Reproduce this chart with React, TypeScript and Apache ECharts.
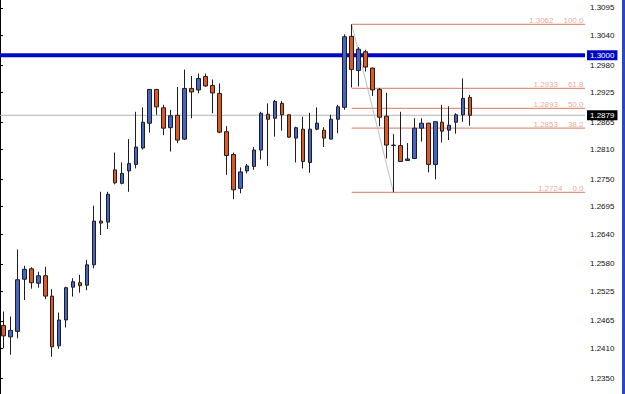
import React, { useEffect, useRef } from "react";
import * as echarts from "echarts";

// OHLC values (68 candles)
const opens = [
  1.2456, 1.2433, 1.2444, 1.2549, 1.2570, 1.2541, 1.2556, 1.2515, 1.2415, 1.2467,
  1.2533, 1.2542, 1.2537, 1.2578, 1.2666, 1.2664, 1.2769, 1.2742, 1.2767, 1.2780,
  1.2813, 1.2863, 1.2931, 1.2894, 1.2854, 1.2879, 1.2831, 1.2933, 1.2930, 1.2957,
  1.2939, 1.2923, 1.2846, 1.2800, 1.2732, 1.2767, 1.2776, 1.2809, 1.2881, 1.2873,
  1.2903, 1.2880, 1.2833, 1.2851, 1.2784, 1.2851, 1.2849, 1.2831, 1.2871, 1.2895,
  1.3038, 1.2969, 1.3007, 1.2974, 1.2931, 1.2877, 1.2819, 1.2818, 1.2788, 1.2792,
  1.2853, 1.2863, 1.2780, 1.2865, 1.2849, 1.2865, 1.2880, 1.2915,
];
const closes = [
  1.2435, 1.2446, 1.2548, 1.2569, 1.2542, 1.2556, 1.2515, 1.2413, 1.2467, 1.2532,
  1.2544, 1.2536, 1.2578, 1.2666, 1.2662, 1.2720, 1.2743, 1.2762, 1.2782, 1.2815,
  1.2865, 1.2931, 1.2896, 1.2853, 1.2878, 1.2829, 1.2933, 1.2926, 1.2953, 1.2938,
  1.2924, 1.2845, 1.2798, 1.2729, 1.2765, 1.2777, 1.2809, 1.2883, 1.2871, 1.2907,
  1.2880, 1.2835, 1.2854, 1.2786, 1.2851, 1.2863, 1.2833, 1.2871, 1.2896, 1.3037,
  1.2971, 1.3012, 1.2976, 1.2930, 1.2875, 1.2819, 1.2818, 1.2786, 1.2791, 1.2853,
  1.2863, 1.2780, 1.2866, 1.2847, 1.2859, 1.2880, 1.2913, 1.2879,
];
const lows = [
  1.2410, 1.2397, 1.2430, 1.2507, 1.2530, 1.2532, 1.2509, 1.2393, 1.2409, 1.2452,
  1.2514, 1.2522, 1.2527, 1.2571, 1.2638, 1.2650, 1.2740, 1.2740, 1.2725, 1.2772,
  1.2810, 1.2844, 1.2880, 1.2839, 1.2806, 1.2823, 1.2829, 1.2873, 1.2923, 1.2936,
  1.2883, 1.2843, 1.2759, 1.2710, 1.2722, 1.2762, 1.2769, 1.2790, 1.2777, 1.2836,
  1.2848, 1.2834, 1.2784, 1.2772, 1.2763, 1.2849, 1.2815, 1.2830, 1.2843, 1.2890,
  1.2935, 1.2937, 1.2967, 1.2918, 1.2857, 1.2792, 1.2724, 1.2785, 1.2787, 1.2791,
  1.2826, 1.2764, 1.2750, 1.2824, 1.2829, 1.2842, 1.2866, 1.2858,
];
const highs = [
  1.2484, 1.2474, 1.2609, 1.2576, 1.2573, 1.2564, 1.2574, 1.2529, 1.2482, 1.2534,
  1.2551, 1.2558, 1.2588, 1.2697, 1.2725, 1.2725, 1.2804, 1.2784, 1.2831, 1.2886,
  1.2895, 1.2932, 1.2932, 1.2900, 1.2890, 1.2936, 1.2971, 1.2958, 1.2963, 1.2963,
  1.2951, 1.2943, 1.2857, 1.2804, 1.2774, 1.2781, 1.2815, 1.2886, 1.2903, 1.2910,
  1.2908, 1.2881, 1.2856, 1.2876, 1.2884, 1.2895, 1.2855, 1.2880, 1.2900, 1.3042,
  1.3062, 1.3016, 1.3011, 1.2975, 1.2934, 1.2924, 1.2841, 1.2886, 1.2823, 1.2873,
  1.2873, 1.2864, 1.2867, 1.2900, 1.2897, 1.2883, 1.2953, 1.2920,
];

const yTicks = [
  1.2350, 1.2410, 1.2465, 1.2525, 1.2580, 1.2640, 1.2695, 1.2750, 1.2810, 1.2865,
  1.2925, 1.2980, 1.3040, 1.3095,
];

const fibPrices = [1.3062, 1.2933, 1.2893, 1.2853, 1.2724];
const fibLevels = [100.0, 61.8, 50.0, 38.2, 0.0];
const fibHighIndex = 50;
const fibLowIndex = 56;

const roundLevel = 1.3;
const lastPrice = 1.2879;

const totalSlots = 84;
const yMin = 1.2318;
const yMax = 1.3111;

export default function App() {
  const ref = useRef<HTMLDivElement>(null);

  useEffect(() => {
    if (!ref.current) return;
    const chart = echarts.init(ref.current, null, { renderer: "svg" });
    const categories = Array.from({ length: totalSlots }, (_, i) => String(i + 1));
    const candleData = opens.map((o, i) => [o, closes[i], lows[i], highs[i]]);
    const font = "'Liberation Sans', Arial, sans-serif";
    const fibColor = "#e2937f";

    const fibLineSeries = fibPrices.map((p) => ({
      type: "line",
      xAxisIndex: 1,
      yAxisIndex: 0,
      data: [
        [fibHighIndex + 0.5, p],
        [totalSlots, p],
      ],
      symbol: "none",
      silent: true,
      z: 2,
      lineStyle: { color: fibColor, width: 1.2 },
    }));

    chart.setOption({
      animation: false,
      backgroundColor: "#ffffff",
      grid: { left: 0, right: 40, top: 0, bottom: 0 },
      xAxis: [
        { type: "category", data: categories, boundaryGap: true, show: false },
        { type: "value", min: 0, max: totalSlots, show: false },
      ],
      yAxis: {
        type: "value",
        position: "right",
        min: yMin,
        max: yMax,
        axisLine: { show: true, lineStyle: { color: "#000", width: 1 } },
        axisTick: {
          show: true,
          length: 3,
          customValues: yTicks,
          lineStyle: { color: "#000" },
        },
        axisLabel: {
          customValues: yTicks,
          formatter: (v: number) => v.toFixed(4),
          color: "#111",
          fontSize: 8,
          fontFamily: font,
          margin: 5,
        },
        splitLine: { show: false },
      },
      graphic: [
        {
          type: "rect",
          right: 0,
          top: 0,
          shape: { width: 3, height: 394 },
          style: { fill: "#2a48c4" },
        },
      ],
      series: [
        {
          type: "line",
          xAxisIndex: 1,
          data: [
            [0, lastPrice],
            [totalSlots, lastPrice],
          ],
          symbol: "none",
          silent: true,
          z: 1,
          lineStyle: { color: "#b4b4b4", width: 1 },
          endLabel: {
            show: true,
            formatter: () => lastPrice.toFixed(4),
            color: "#fff",
            backgroundColor: "#000",
            fontSize: 8,
            fontFamily: font,
            padding: [1, 3, 1, 3],
            distance: 2,
          },
        },
        {
          type: "line",
          xAxisIndex: 1,
          data: [
            [0, roundLevel],
            [totalSlots, roundLevel],
          ],
          symbol: "none",
          silent: true,
          z: 1,
          lineStyle: { color: "#0008c8", width: 4 },
          endLabel: {
            show: true,
            formatter: () => roundLevel.toFixed(4),
            color: "#fff",
            backgroundColor: "#0008c8",
            fontSize: 8,
            fontFamily: font,
            padding: [1, 3, 1, 3],
            distance: 2,
          },
        },
        ...fibLineSeries,
        {
          type: "line",
          xAxisIndex: 1,
          data: [
            [fibHighIndex + 0.5, fibPrices[0]],
            [fibLowIndex + 0.5, fibPrices[fibPrices.length - 1]],
          ],
          symbol: "none",
          silent: true,
          z: 2,
          lineStyle: { color: "#bdbdbd", width: 1 },
        },
        {
          type: "scatter",
          xAxisIndex: 1,
          data: fibPrices.map((p) => [totalSlots, p]),
          symbolSize: 1,
          silent: true,
          z: 4,
          itemStyle: { color: "rgba(0,0,0,0)" },
          label: {
            show: true,
            position: "left",
            distance: 1,
            align: "right",
            verticalAlign: "bottom",
            offset: [0, 0],
            formatter: (params: any) =>
              `{p|${fibPrices[params.dataIndex].toFixed(4)}}{l|${fibLevels[params.dataIndex].toFixed(1)}}`,
            rich: {
              p: { color: fibColor, fontSize: 8, fontFamily: font },
              l: { color: fibColor, fontSize: 8, fontFamily: font, padding: [0, 0, 0, 10] },
            },
          },
        },
        {
          type: "candlestick",
          xAxisIndex: 0,
          data: candleData,
          barWidth: 4,
          z: 5,
          itemStyle: {
            color: "#4563c9",
            color0: "#e0581f",
            borderColor: "#1e1e1e",
            borderColor0: "#1e1e1e",
            borderWidth: 1,
          },
        },
      ],
    });

    return () => chart.dispose();
  }, []);

  return (
    <div
      ref={ref}
      style={{ position: "absolute", left: 0, top: 0, width: 625, height: 394 }}
    />
  );
}
